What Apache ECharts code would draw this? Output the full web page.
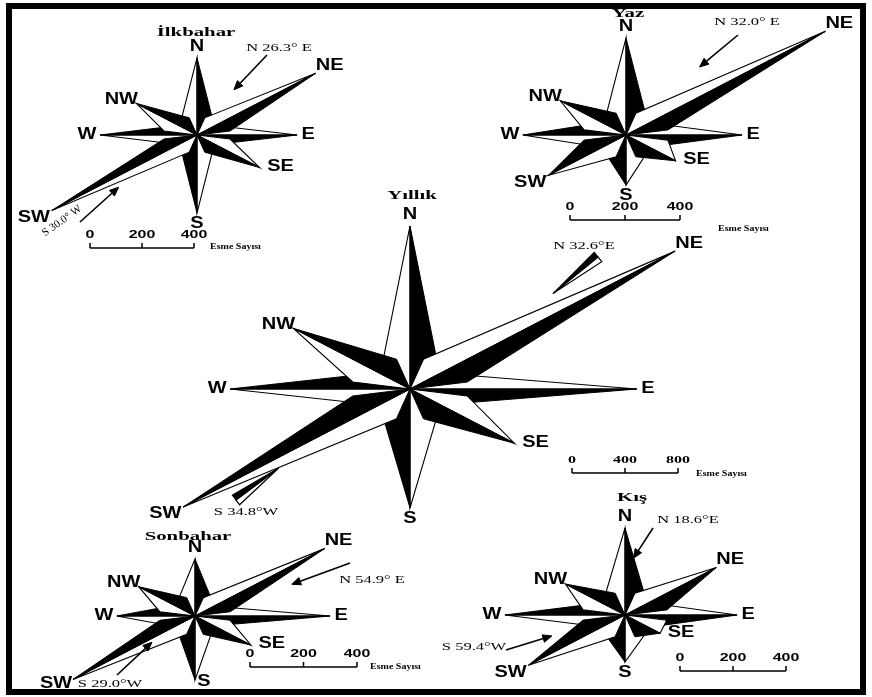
<!DOCTYPE html>
<html>
<head>
<meta charset="utf-8">
<script src="https://cdn.jsdelivr.net/npm/echarts@6/dist/echarts.min.js"></script>
<style>
html, body { margin: 0; padding: 0; background: #fff; }
#chart { width: 872px; height: 697px; }
</style>
</head>
<body>
<div id="chart"></div>
<script>
// Wind directions and their bearings (degrees clockwise from north)
const directions = ['N', 'NE', 'E', 'SE', 'S', 'SW', 'W', 'NW'];
const bearings = [0, 45, 90, 135, 180, 225, 270, 315];

// Number of observations (esme sayısı) per direction
const ilkbaharCounts = [570, 645, 385, 340, 577, 790, 373, 330];
const yazCounts      = [678, 1025, 422, 255, 350, 400, 375, 338];
const yillikCounts   = [2366, 2830, 1713, 1115, 1727, 2420, 1358, 1245];
const sonbaharCounts = [410, 685, 505, 295, 460, 645, 292, 298];
const kisCounts      = [631, 487, 423, 187, 341, 515, 453, 318];

// Resultant directions: [N..E angle, S..W angle]
const ilkbaharResultants = [26.3, 30.0];
const yazResultants      = [32.0];
const yillikResultants   = [32.6, 34.8];
const sonbaharResultants = [54.9, 29.0];
const kisResultants      = [18.6, 59.4];

// Scale bar ticks
const ilkbaharTicks = [0, 200, 400];
const yazTicks      = [0, 200, 400];
const yillikTicks   = [0, 400, 800];
const sonbaharTicks = [0, 200, 400];
const kisTicks      = [0, 200, 400];

const unitLabel = 'Esme Sayısı';
const squash = 0.52;   // vertical pixels per count relative to horizontal

const SANS = '"Liberation Sans", Arial, sans-serif';
const SERIF = '"Liberation Serif", "Times New Roman", serif';

// Layout of each rose: centre, horizontal pixels per count, ray base size, annotations
const roses = [
  { title: 'İlkbahar', counts: ilkbaharCounts, ticks: ilkbaharTicks, resultants: ilkbaharResultants,
    center: [197, 135], pxPerCount: 0.26, base: 15, titlePos: [196, 33],
    bar: [90, 248], tickFont: 'sans', unitPos: [210, 247], letterShift: {},
    arrows: [
      { from: 'N', to: 'E', sep: ' ', tail: [267, 55], len: 48, label: [279, 48], kind: 'line' },
      { from: 'S', to: 'W', sep: ' ', tail: [80, 222], len: 52, label: [62, 221], rot: 0.62, stretch: 1.0, kind: 'line' }
    ] },
  { title: 'Yaz', counts: yazCounts, ticks: yazTicks, resultants: yazResultants,
    center: [626, 135], pxPerCount: 0.275, base: 19, titlePos: [628, 14],
    bar: [570, 220], tickFont: 'sans', unitPos: [718, 229], letterShift: {},
    arrows: [
      { from: 'N', to: 'E', sep: ' ', tail: [738, 35], len: 50, label: [747, 22], kind: 'line' }
    ] },
  { title: 'Yıllık', counts: yillikCounts, ticks: yillikTicks, resultants: yillikResultants,
    center: [410, 389], pxPerCount: 0.1325, base: 26, titlePos: [412, 196],
    bar: [572, 473], tickFont: 'serif', unitPos: [696, 474], letterShift: {},
    arrows: [
      { from: 'N', to: 'E', sep: '', tail: [598, 257], len: 58, label: [584, 246], kind: 'dart' },
      { from: 'S', to: 'W', sep: '', tail: [236, 500], len: 53, label: [246, 512], kind: 'dart' }
    ] },
  { title: 'Sonbahar', counts: sonbaharCounts, ticks: sonbaharTicks, resultants: sonbaharResultants,
    center: [195, 616], pxPerCount: 0.2675, base: 16, titlePos: [188, 537],
    bar: [250, 667], tickFont: 'sans', unitPos: [370, 667], letterShift: { S: [9, 2], SW: [-17, 4] },
    arrows: [
      { from: 'N', to: 'E', sep: ' ', tail: [350, 563], len: 62, label: [372, 580], kind: 'line' },
      { from: 'S', to: 'W', sep: '', tail: [117, 675], len: 48, label: [110, 684], kind: 'line' }
    ] },
  { title: 'Kış', counts: kisCounts, ticks: kisTicks, resultants: kisResultants,
    center: [625, 615], pxPerCount: 0.265, base: 19, titlePos: [632, 498],
    bar: [680, 671], tickFont: 'sans', unitPos: null, letterShift: {},
    arrows: [
      { from: 'N', to: 'E', sep: '', tail: [653, 528], len: 36, label: [688, 520], kind: 'line' },
      { from: 'S', to: 'W', sep: '', tail: [506, 650], len: 48, label: [474, 647], kind: 'line' }
    ] }
];

// Where each direction letter sits relative to its ray tip (pixels)
const letterOffset = {
  N: [0, -11], NE: [14, -8], E: [11, 0], SE: [21, -1],
  S: [0, 11], SW: [-18, 7], W: [-13, 0], NW: [-15, -4]
};

const R = 100; // half-range of each hidden axis (counts)

const grids = [], xAxes = [], yAxes = [], series = [], graphics = [];

function rayRenderer(rose, widthFactor) {
  return function (params, api) {
    const b = api.value(0) * Math.PI / 180;
    const r = api.value(1);
    const name = directions[api.value(2)];
    const unit = api.size([1, 1]);
    const d = rose.base / unit[1];
    const w = d * widthFactor;
    const sb = Math.sin(b), cb = Math.cos(b);
    const C = api.coord([0, 0]);
    const T = api.coord([r * sb, r * cb]);
    const P = api.coord([d * sb + w * cb, d * cb - w * sb]);   // clockwise side
    const Q = api.coord([d * sb - w * cb, d * cb + w * sb]);   // counter-clockwise side
    const off = rose.letterShift[name] || letterOffset[name];
    return {
      type: 'group',
      children: [
        { type: 'polygon', shape: { points: [C, T, Q] },
          style: { fill: '#fff', stroke: '#000', lineWidth: 1.1, lineJoin: 'miter' } },
        { type: 'polygon', shape: { points: [C, P, T] },
          style: { fill: '#000', stroke: '#000', lineWidth: 1, lineJoin: 'miter' } },
        { type: 'text', x: T[0] + off[0], y: T[1] + off[1], scaleX: 1.25,
          style: { text: name, fill: '#000', font: 'bold 16px ' + SANS,
                   align: 'center', verticalAlign: 'middle' } }
      ]
    };
  };
}

function barRenderer(rose) {
  return function (params, api) {
    const ux = api.size([1, 1])[0];
    const x0 = rose.bar[0], y0 = rose.bar[1];
    const last = rose.ticks[rose.ticks.length - 1];
    const children = [
      { type: 'line', shape: { x1: x0, y1: y0, x2: x0 + last * ux, y2: y0 },
        style: { stroke: '#000', lineWidth: 1.5 } }
    ];
    rose.ticks.forEach(t => {
      const x = x0 + t * ux;
      children.push({ type: 'line', shape: { x1: x, y1: y0 - 5, x2: x, y2: y0 },
        style: { stroke: '#000', lineWidth: 1.5 } });
      children.push({ type: 'text', x: x, y: y0 - 13,
        scaleX: rose.tickFont === 'serif' ? 1.6 : 1.45,
        style: { text: String(t), fill: '#000',
          font: rose.tickFont === 'serif' ? 'bold 10px ' + SERIF : 'bold 11px ' + SANS,
          align: 'center', verticalAlign: 'middle' } });
    });
    if (rose.unitPos) {
      children.push({ type: 'text', x: rose.unitPos[0], y: rose.unitPos[1], scaleX: 1.25,
        style: { text: unitLabel, fill: '#000', font: 'bold 8px ' + SERIF,
          align: 'left', verticalAlign: 'middle' } });
    }
    return { type: 'group', children };
  };
}

function arrowRenderer(rose) {
  return function (params, api) {
    const th = api.value(0) * Math.PI / 180;
    const a = rose.arrows[api.value(1)];
    const s = api.size([1, 1]);
    const sign = a.from === 'N' ? -1 : 1;
    let dx = sign * Math.sin(th) * s[0];
    let dy = -sign * Math.cos(th) * s[1];
    const n = Math.hypot(dx, dy);
    dx /= n; dy /= n;
    const tail = a.tail;
    const head = [tail[0] + dx * a.len, tail[1] + dy * a.len];
    let px = -dy, py = dx;
    if (py > 0) { px = -px; py = -py; }   // perpendicular pointing upward
    const children = [];
    if (a.kind === 'dart') {
      const hw = 6;
      const up = [tail[0] + px * hw, tail[1] + py * hw];
      const dn = [tail[0] - px * hw, tail[1] - py * hw];
      children.push({ type: 'polygon', shape: { points: [head, tail, dn] },
        style: { fill: '#fff', stroke: '#000', lineWidth: 1.2 } });
      children.push({ type: 'polygon', shape: { points: [head, up, tail] },
        style: { fill: '#000', stroke: '#000', lineWidth: 1.2 } });
    } else {
      const hl = 9, hw = 3.8;
      const bx = head[0] - dx * hl, by = head[1] - dy * hl;
      children.push({ type: 'line', shape: { x1: tail[0], y1: tail[1], x2: bx, y2: by },
        style: { stroke: '#000', lineWidth: 1.6 } });
      children.push({ type: 'polygon',
        shape: { points: [head, [bx + px * hw, by + py * hw], [bx - px * hw, by - py * hw]] },
        style: { fill: '#000', stroke: '#000', lineWidth: 1 } });
    }
    const text = a.from + ' ' + api.value(0).toFixed(1) + '°' + a.sep + a.to;
    children.push({ type: 'text', x: a.label[0], y: a.label[1], rotation: a.rot || 0,
      scaleX: a.stretch || 1.5,
      style: { text, fill: '#000', font: '11px ' + SERIF, align: 'center', verticalAlign: 'middle' } });
    return { type: 'group', children };
  };
}

roses.forEach((rose, i) => {
  const sx = rose.pxPerCount, sy = rose.pxPerCount * squash;
  grids.push({ left: rose.center[0] - R * sx, top: rose.center[1] - R * sy,
               width: 2 * R * sx, height: 2 * R * sy, show: false });
  xAxes.push({ type: 'value', gridIndex: i, min: -R, max: R, show: false });
  yAxes.push({ type: 'value', gridIndex: i, min: -R, max: R, show: false });

  const cardinal = [], diagonal = [];
  rose.counts.forEach((v, k) => {
    (bearings[k] % 90 === 0 ? cardinal : diagonal).push([bearings[k], v, k]);
  });
  const common = { type: 'custom', xAxisIndex: i, yAxisIndex: i, silent: true,
                   animation: false, clip: false };
  series.push(Object.assign({}, common, { name: rose.title + ' ana', z: 2,
    data: cardinal, renderItem: rayRenderer(rose, 0.55) }));
  series.push(Object.assign({}, common, { name: rose.title + ' ara', z: 3,
    data: diagonal, renderItem: rayRenderer(rose, 0.62) }));
  series.push(Object.assign({}, common, { name: rose.title + ' ölçek', z: 4,
    data: [[0, 0]], renderItem: barRenderer(rose) }));
  series.push(Object.assign({}, common, { name: rose.title + ' bileşke', z: 4,
    data: rose.resultants.map((v, k) => [v, k]), renderItem: arrowRenderer(rose) }));

  graphics.push({ type: 'text', x: rose.titlePos[0], y: rose.titlePos[1], scaleX: 1.6, z: 10,
    style: { text: rose.title, fill: '#000', font: 'bold 13px ' + SERIF,
             align: 'center', verticalAlign: 'middle' } });
});

// Outer frame
graphics.push({ type: 'rect', z: 20, shape: { x: 9, y: 6, width: 854, height: 686 },
  style: { fill: 'none', stroke: '#000', lineWidth: 6 } });

const chart = echarts.init(document.getElementById('chart'), null, { renderer: 'canvas' });
chart.setOption({
  backgroundColor: '#fff',
  animation: false,
  grid: grids,
  xAxis: xAxes,
  yAxis: yAxes,
  graphic: graphics,
  series: series
});
</script>
</body>
</html>
